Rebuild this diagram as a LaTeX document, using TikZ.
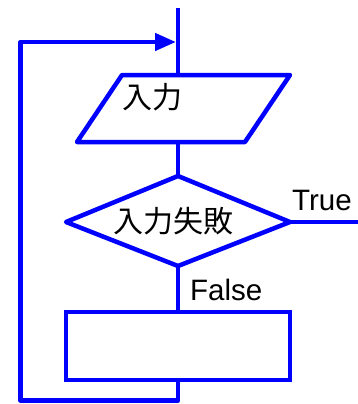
\documentclass[tikz,border=0pt]{standalone}
\usepackage{fontspec}
\setmainfont{Liberation Sans}
\newfontfamily\jp{Noto Sans CJK JP}
\usetikzlibrary{arrows.meta}
\begin{document}
\begin{tikzpicture}[x=1pt,y=-1pt,
  flow/.style={draw=blue,line width=4.5pt,line join=round},
  lbl/.style={inner sep=0pt,font=\fontsize{29.5}{31}\selectfont},
  jlbl/.style={inner sep=0pt,font=\fontsize{30}{32}\selectfont\jp}]
\useasboundingbox (0,0) rectangle (358,404);
% coordinates
\coordinate (top) at (178,8);
\coordinate (pin) at (178,75);
\coordinate (pout) at (178,142);
\coordinate (dt) at (178,176);
\coordinate (dl) at (66,222);
\coordinate (dr) at (290,222);
\coordinate (db) at (178,266);
\coordinate (tend) at (358,222);
\coordinate (rt) at (178,312);
\coordinate (rb) at (178,380);
\coordinate (lp) at (178,400.5);
\coordinate (ll) at (20.5,400.5);
\coordinate (lu) at (20.5,42);
\coordinate (ah) at (176,42);
% shapes
\draw[flow] (122,75) -- (290,75) -- (245,142) -- (77,142) -- cycle;
\draw[flow] (dt) -- (dr) -- (db) -- (dl) -- cycle;
\draw[flow,line join=miter] (66,312) rectangle (290,380);
% connectors
\draw[flow] (top) -- (pin);
\draw[flow] (pout) -- (dt);
\draw[flow] (dr) -- (tend);
\draw[flow] (db) -- (rt);
\draw[flow,-{Triangle[length=21pt,width=17pt]}] (rb) -- (lp) -- (ll) -- (lu) -- (ah);
% labels
\node[jlbl,anchor=west] (in) at (122,97) {入力};
\node[jlbl] (fail) at (173.5,221) {入力失敗};
\node[lbl,anchor=base west] (true) at (292,210) {True};
\node[lbl,anchor=base west] (false) at (190,300) {False};
\end{tikzpicture}
\end{document}
